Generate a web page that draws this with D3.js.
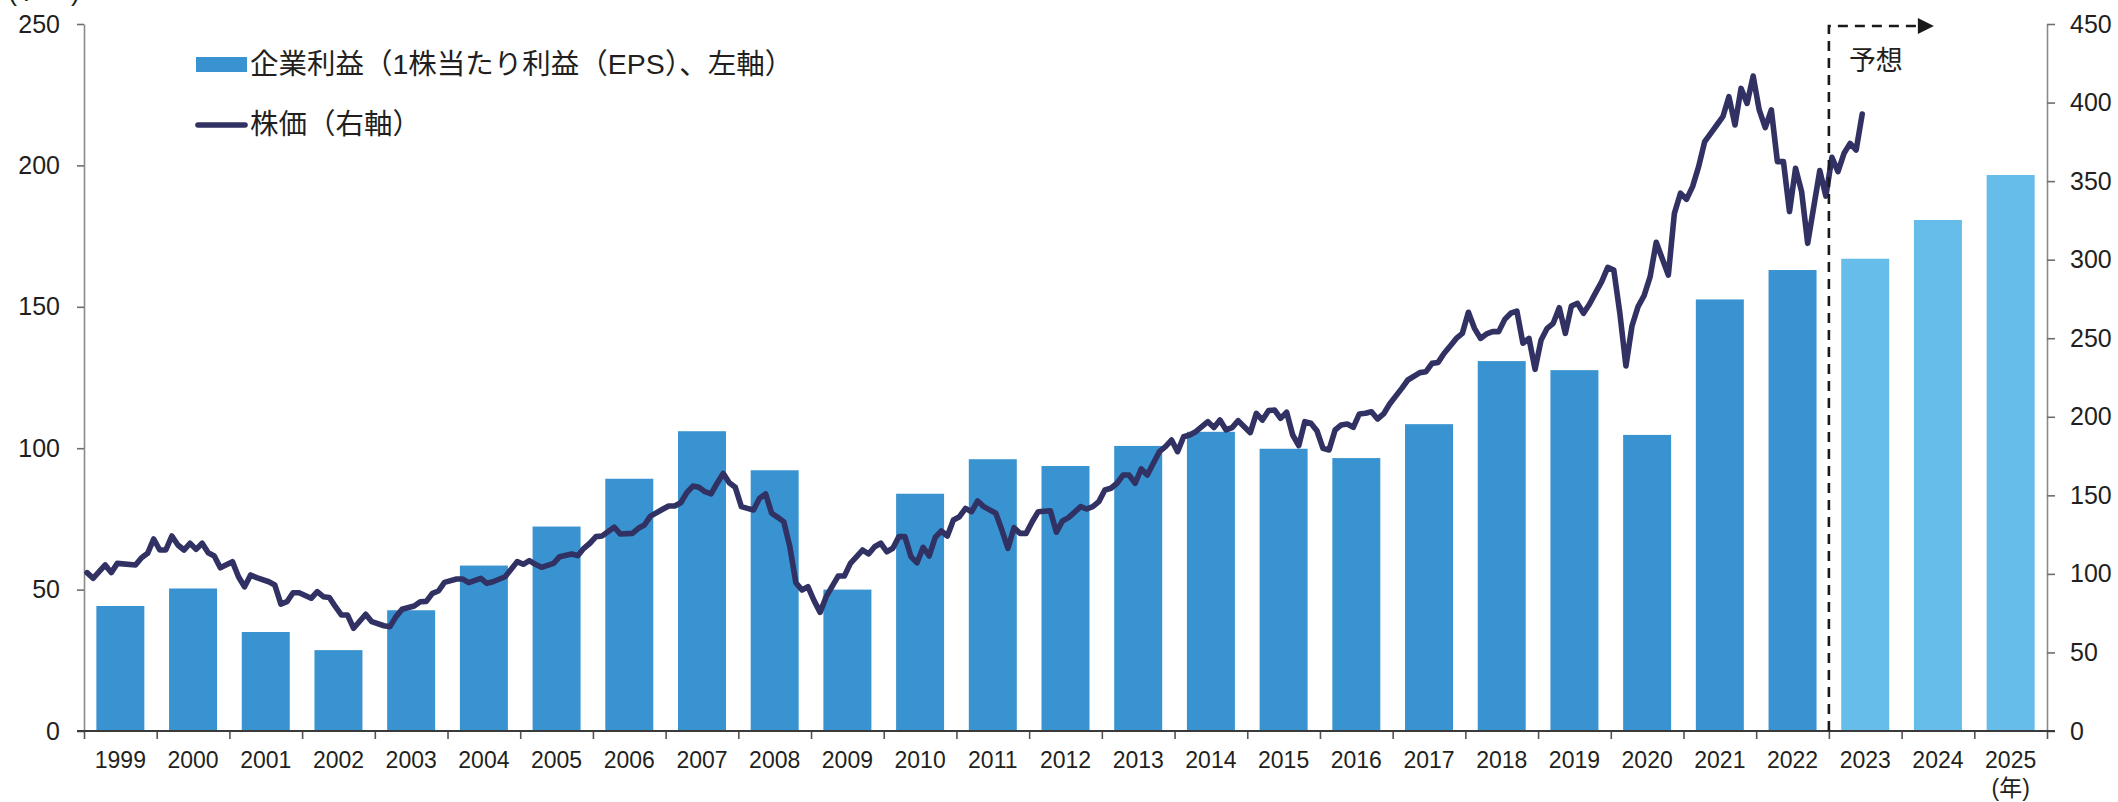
<!DOCTYPE html>
<html lang="ja">
<head>
<meta charset="UTF-8">
<title>企業利益と株価</title>
<script src="https://cdn.jsdelivr.net/npm/d3@7"></script>
<style>
  body { margin: 0; background: #fff; }
  svg { display: block; font-family: "Liberation Sans", Arial, "Noto Sans CJK JP", sans-serif; }
  .axis text { fill: #231f20; }
</style>
</head>
<body>
<svg id="chart"></svg>
<script>
// categories (years) and EPS bars, left axis
const years = ["1999","2000","2001","2002","2003","2004","2005","2006","2007","2008","2009","2010","2011","2012",
  "2013","2014","2015","2016","2017","2018","2019","2020","2021","2022","2023","2024","2025"];
const eps = [44.2, 50.4, 35.0, 28.6, 42.7, 58.5, 72.3, 89.2, 106.0, 92.2, 50.0, 83.9, 96.1, 93.7,
  100.8, 105.8, 99.8, 96.5, 108.5, 130.8, 127.6, 104.7, 152.6, 163.0, 167.0, 180.7, 196.6];
const forecastYears = ["2023","2024","2025"];

const leftTicks = [0, 50, 100, 150, 200, 250];
const rightTicks = [0, 50, 100, 150, 200, 250, 300, 350, 400, 450];

// stock price (right axis), month-end readings
const priceSeries = [
  ["1999-01",100.8],["1999-02",97.2],["1999-04",105.7],["1999-05",100.8],["1999-06",106.7],["1999-09",105.7],["1999-10",110.3],["1999-11",113.1],["1999-12",122.2],
  ["2000-01",115.2],["2000-02",115.2],["2000-03",124.1],["2000-04",118.4],["2000-05",115.2],["2000-06",119.5],["2000-07",115.6],["2000-08",119.5],["2000-09",113.5],["2000-10",111.4],["2000-11",103.9],
  ["2001-01",107.8],["2001-02",98.2],["2001-03",91.8],["2001-04",99.3],["2001-05",97.6],["2001-07",95.0],["2001-08",92.9],["2001-09",80.8],["2001-10",82.3],["2001-11",88.0],["2001-12",88.0],
  ["2002-02",84.5],["2002-03",88.7],["2002-04",85.5],["2002-05",85.0],["2002-06",79.1],["2002-07",73.8],["2002-08",73.8],["2002-09",65.4],["2002-11",74.3],["2002-12",69.6],
  ["2003-02",67.0],["2003-03",66.4],["2003-04",72.8],["2003-05",77.5],["2003-07",79.6],["2003-08",82.3],["2003-09",82.5],["2003-10",87.6],["2003-11",89.1],["2003-12",94.6],
  ["2004-02",96.7],["2004-03",96.7],["2004-04",94.4],["2004-06",97.2],["2004-07",94.0],["2004-08",95.0],["2004-10",98.2],["2004-11",102.9],["2004-12",107.8],
  ["2005-01",106.1],["2005-02",108.4],["2005-03",106.1],["2005-04",104.2],["2005-06",106.7],["2005-07",110.9],["2005-09",112.7],["2005-10",111.6],["2005-11",116.3],["2005-12",119.5],
  ["2006-01",123.7],["2006-02",124.1],["2006-04",129.7],["2006-05",125.4],["2006-07",125.8],["2006-08",129.0],["2006-09",131.1],["2006-10",136.8],["2006-12",141.1],
  ["2007-01",143.2],["2007-02",143.2],["2007-03",145.3],["2007-04",151.7],["2007-05",155.9],["2007-06",155.1],["2007-07",152.3],["2007-08",150.9],["2007-09",157.7],["2007-10",164.0],["2007-11",158.0],["2007-12",155.1],
  ["2008-01",142.8],["2008-02",141.7],["2008-03",140.7],["2008-04",148.1],["2008-05",150.9],["2008-06",138.6],["2008-07",136.0],["2008-08",133.2],["2008-09",117.3],["2008-10",94.4],["2008-11",89.7],["2008-12",91.8],
  ["2009-01",83.0],["2009-02",75.5],["2009-03",85.5],["2009-05",98.7],["2009-06",98.7],["2009-07",106.7],["2009-09",115.2],["2009-10",112.7],["2009-11",117.3],["2009-12",119.5],
  ["2010-01",114.1],["2010-02",116.3],["2010-03",123.7],["2010-04",123.7],["2010-05",110.9],["2010-06",107.1],["2010-07",116.9],["2010-08",111.4],["2010-09",123.3],["2010-10",127.3],["2010-11",124.1],["2010-12",134.3],
  ["2011-01",136.4],["2011-02",141.7],["2011-03",139.6],["2011-04",146.4],["2011-05",142.8],["2011-07",138.6],["2011-08",127.9],["2011-09",116.3],["2011-10",129.4],["2011-11",125.8],["2011-12",125.8],
  ["2012-01",133.2],["2012-02",139.6],["2012-04",140.2],["2012-05",126.5],["2012-06",133.7],["2012-07",135.8],["2012-09",142.8],["2012-10",141.3],["2012-11",142.8],["2012-12",146.0],
  ["2013-01",153.4],["2013-02",154.5],["2013-03",157.7],["2013-04",162.9],["2013-05",162.9],["2013-06",157.7],["2013-07",166.8],["2013-08",162.9],["2013-09",170.4],["2013-10",177.8],["2013-11",181.0],["2013-12",185.2],
  ["2014-01",177.8],["2014-02",187.3],["2014-03",188.4],["2014-04",190.5],["2014-06",196.9],["2014-07",193.1],["2014-08",197.9],["2014-09",191.6],["2014-10",193.1],["2014-11",197.5],
  ["2015-01",189.9],["2015-02",202.2],["2015-03",197.9],["2015-04",203.9],["2015-05",204.3],["2015-06",199.0],["2015-07",202.9],["2015-08",188.4],["2015-09",181.6],["2015-10",196.9],["2015-11",195.9],["2015-12",191.1],
  ["2016-01",179.9],["2016-02",178.9],["2016-03",191.6],["2016-04",194.8],["2016-05",195.4],["2016-06",193.3],["2016-07",201.8],["2016-08",202.2],["2016-09",203.2],["2016-10",198.6],["2016-11",201.8],["2016-12",208.1],
  ["2017-02",218.1],["2017-03",223.4],["2017-05",228.1],["2017-06",228.7],["2017-07",234.0],["2017-08",234.6],["2017-09",240.4],["2017-10",245.1],["2017-11",249.9],["2017-12",253.1],
  ["2018-01",266.5],["2018-02",256.3],["2018-03",249.9],["2018-04",252.7],["2018-05",254.2],["2018-06",254.2],["2018-07",262.0],["2018-08",265.9],["2018-09",267.3],["2018-10",246.8],["2018-11",249.9],["2018-12",230.2],
  ["2019-01",248.9],["2019-02",256.3],["2019-03",259.5],["2019-04",269.4],["2019-05",253.1],["2019-06",270.5],["2019-07",272.2],["2019-08",265.9],["2019-09",271.8],["2019-10",279.0],["2019-11",286.0],["2019-12",295.1],
  ["2020-01",293.4],["2020-02",265.9],["2020-03",232.3],["2020-04",257.8],["2020-05",270.1],["2020-06",277.1],["2020-07",289.2],["2020-08",311.1],["2020-10",290.2],["2020-11",329.5],["2020-12",342.3],
  ["2021-01",338.4],["2021-02",346.5],["2021-03",359.2],["2021-04",375.1],["2021-05",380.4],["2021-06",385.7],["2021-07",391.0],["2021-08",403.7],["2021-09",385.7],["2021-10",409.0],["2021-11",399.5],["2021-12",416.9],
  ["2022-01",395.3],["2022-02",384.0],["2022-03",395.3],["2022-04",362.4],["2022-05",362.4],["2022-06",330.6],["2022-07",358.2],["2022-08",343.3],["2022-09",310.4],["2022-11",356.7],["2022-12",340.5],
  ["2023-01",365.1],["2023-02",356.0],["2023-03",367.7],["2023-04",374.0],["2023-05",369.8],["2023-06",392.7]
];

const width = 2118, height = 802;
const plot = {left: 84, right: 2047, top: 24, bottom: 731};

const svg = d3.select("#chart")
    .attr("width", width)
    .attr("height", height);

const x = d3.scaleBand()
    .domain(years)
    .range([plot.left, plot.right])
    .paddingInner(0.34)
    .paddingOuter(0.17);

// category edges, used for the x tick marks
const xEdge = d3.scaleLinear()
    .domain([0, years.length])
    .range([plot.left, plot.right]);

// decimal-year position for the monthly line
const xTime = d3.scaleLinear()
    .domain([+years[0], +years[years.length - 1] + 1])
    .range([plot.left, plot.right]);

const yLeft = d3.scaleLinear().domain([0, 250]).range([plot.bottom, plot.top]);
const yRight = d3.scaleLinear().domain([0, 450]).range([plot.bottom, plot.top]);

// bars
svg.append("g")
  .selectAll("rect")
  .data(years)
  .join("rect")
    .attr("x", d => x(d))
    .attr("y", (d, i) => yLeft(eps[i]))
    .attr("width", x.bandwidth())
    .attr("height", (d, i) => yLeft(0) - yLeft(eps[i]))
    .attr("fill", d => forecastYears.includes(d) ? "#66bdea" : "#3893d0");

// left axis
const gLeft = svg.append("g")
    .attr("class", "axis")
    .attr("transform", `translate(${plot.left},0)`)
    .call(d3.axisLeft(yLeft).tickValues(leftTicks).tickSize(7).tickSizeOuter(0).tickPadding(17));
gLeft.selectAll("text").style("font-size", "25px");

// right axis
const gRight = svg.append("g")
    .attr("class", "axis")
    .attr("transform", `translate(${plot.right},0)`)
    .call(d3.axisRight(yRight).tickValues(rightTicks).tickSize(8).tickSizeOuter(0).tickPadding(15));
gRight.selectAll("text").style("font-size", "25px");

[gLeft, gRight].forEach(g => {
  g.select(".domain").attr("stroke", "#8a8a8a").attr("stroke-width", 1.6);
  g.selectAll(".tick line").attr("stroke", "#6e6e6e").attr("stroke-width", 1.6);
});

// x axis: tick marks at category edges, labels at category centres
const gEdges = svg.append("g")
    .attr("transform", `translate(0,${plot.bottom})`)
    .call(d3.axisBottom(xEdge).tickValues(d3.range(years.length + 1)).tickSize(8).tickFormat(""));
gEdges.select(".domain").remove();
gEdges.selectAll(".tick line").attr("stroke", "#555").attr("stroke-width", 1.6);

const gX = svg.append("g")
    .attr("class", "axis")
    .attr("transform", `translate(0,${plot.bottom})`)
    .call(d3.axisBottom(x).tickSize(0).tickPadding(21));
gX.select(".domain").remove();
gX.selectAll("text").style("font-size", "23px");

// unit label under the last year
svg.append("text")
    .attr("x", x(years[years.length - 1]) + x.bandwidth() / 2)
    .attr("y", 796)
    .attr("text-anchor", "middle")
    .attr("fill", "#231f20")
    .style("font-size", "23px")
    .text("(年)");

// baseline
svg.append("line")
    .attr("x1", plot.left - 7)
    .attr("x2", plot.right + 8)
    .attr("y1", plot.bottom)
    .attr("y2", plot.bottom)
    .attr("stroke", "#3a3a3a")
    .attr("stroke-width", 2);

// price line
const line = d3.line()
    .x(d => {
      const [yy, mm] = d[0].split("-").map(Number);
      return xTime(yy + (mm - 0.5) / 12);
    })
    .y(d => yRight(d[1]))
    .curve(d3.curveLinear);

svg.append("path")
    .datum(priceSeries)
    .attr("d", line)
    .attr("fill", "none")
    .attr("stroke", "#313263")
    .attr("stroke-width", 5.6)
    .attr("stroke-linejoin", "round")
    .attr("stroke-linecap", "round");

// forecast marker
const fx = xEdge(years.indexOf(forecastYears[0]));
const arrowY = 26;
svg.append("path")
    .attr("d", `M${fx},${plot.bottom}V${arrowY}H${fx + 90}`)
    .attr("fill", "none")
    .attr("stroke", "#1a1a1a")
    .attr("stroke-width", 2.6)
    .attr("stroke-dasharray", "10,7");
svg.append("path")
    .attr("d", `M${fx + 89},${arrowY - 8}L${fx + 105},${arrowY}L${fx + 89},${arrowY + 8}Z`)
    .attr("fill", "#1a1a1a");
svg.append("text")
    .attr("x", fx + 20)
    .attr("y", 70)
    .attr("fill", "#231f20")
    .style("font-size", "27px")
    .text("予想");

// top-left unit label (only its lower edge shows, as in the source)
svg.append("text")
    .attr("x", 8)
    .attr("y", 0)
    .attr("fill", "#231f20")
    .style("font-size", "27px")
    .text("(ドル)");

// legend
const legend = svg.append("g").attr("transform", "translate(196,0)");
legend.append("rect")
    .attr("x", 0).attr("y", 57)
    .attr("width", 51).attr("height", 15)
    .attr("fill", "#3893d0");
legend.append("text")
    .attr("x", 54).attr("y", 64)
    .attr("dominant-baseline", "central")
    .attr("fill", "#231f20")
    .style("font-size", "28.5px")
    .text("企業利益（1株当たり利益（EPS）、左軸）");
legend.append("line")
    .attr("x1", 2).attr("x2", 49)
    .attr("y1", 125).attr("y2", 125)
    .attr("stroke", "#313263")
    .attr("stroke-width", 5.6)
    .attr("stroke-linecap", "round");
legend.append("text")
    .attr("x", 54).attr("y", 124)
    .attr("dominant-baseline", "central")
    .attr("fill", "#231f20")
    .style("font-size", "28.5px")
    .text("株価（右軸）");
</script>
</body>
</html>
